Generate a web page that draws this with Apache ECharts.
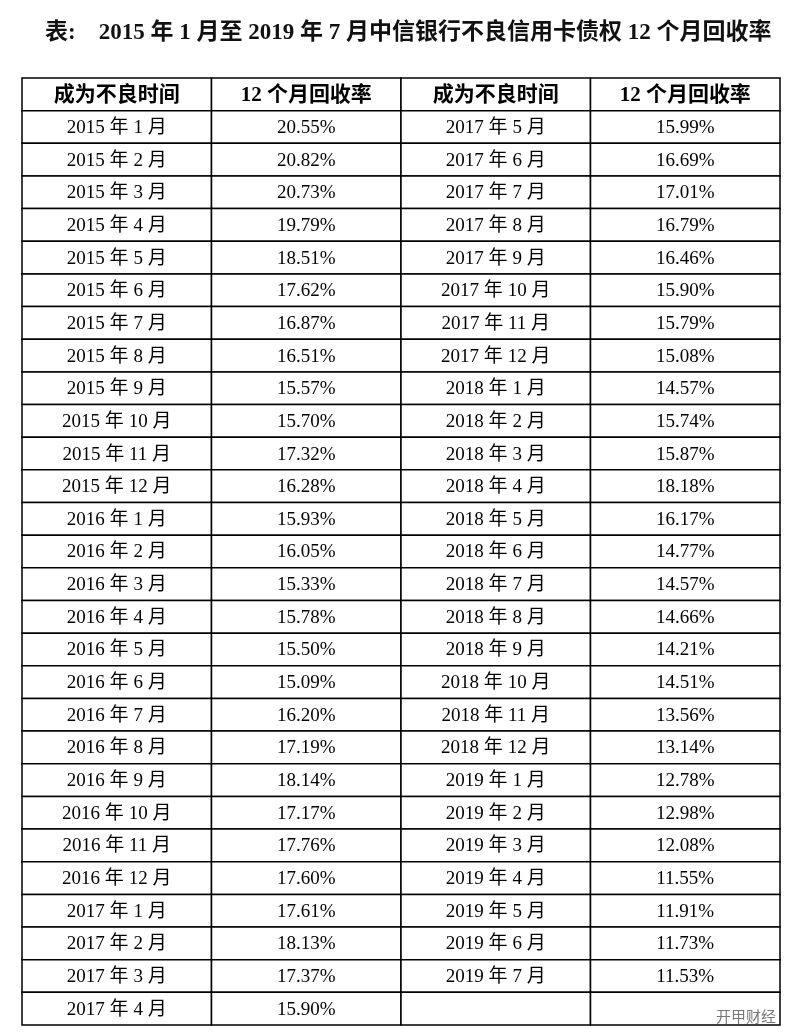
<!DOCTYPE html>
<html lang="zh">
<head>
<meta charset="utf-8">
<script src="https://cdn.jsdelivr.net/npm/echarts@6/dist/echarts.min.js"></script>
<style>
	html, body { margin: 0; padding: 0; background: #fff; }
	#main { width: 794px; height: 1032px; }
</style>
</head>
<body>
<div id="main"></div>
<script>
	// 表头
	var headers = ['成为不良时间', '12 个月回收率', '成为不良时间', '12 个月回收率'];
	// 左半部分：2015年1月 - 2017年4月
	var leftMonths = [
		'2015 年 1 月', '2015 年 2 月', '2015 年 3 月', '2015 年 4 月', '2015 年 5 月', '2015 年 6 月',
		'2015 年 7 月', '2015 年 8 月', '2015 年 9 月', '2015 年 10 月', '2015 年 11 月', '2015 年 12 月',
		'2016 年 1 月', '2016 年 2 月', '2016 年 3 月', '2016 年 4 月', '2016 年 5 月', '2016 年 6 月',
		'2016 年 7 月', '2016 年 8 月', '2016 年 9 月', '2016 年 10 月', '2016 年 11 月', '2016 年 12 月',
		'2017 年 1 月', '2017 年 2 月', '2017 年 3 月', '2017 年 4 月'
	];
	var leftRates = [
		'20.55%', '20.82%', '20.73%', '19.79%', '18.51%', '17.62%',
		'16.87%', '16.51%', '15.57%', '15.70%', '17.32%', '16.28%',
		'15.93%', '16.05%', '15.33%', '15.78%', '15.50%', '15.09%',
		'16.20%', '17.19%', '18.14%', '17.17%', '17.76%', '17.60%',
		'17.61%', '18.13%', '17.37%', '15.90%'
	];
	// 右半部分：2017年5月 - 2019年7月
	var rightMonths = [
		'2017 年 5 月', '2017 年 6 月', '2017 年 7 月', '2017 年 8 月', '2017 年 9 月', '2017 年 10 月',
		'2017 年 11 月', '2017 年 12 月', '2018 年 1 月', '2018 年 2 月', '2018 年 3 月', '2018 年 4 月',
		'2018 年 5 月', '2018 年 6 月', '2018 年 7 月', '2018 年 8 月', '2018 年 9 月', '2018 年 10 月',
		'2018 年 11 月', '2018 年 12 月', '2019 年 1 月', '2019 年 2 月', '2019 年 3 月', '2019 年 4 月',
		'2019 年 5 月', '2019 年 6 月', '2019 年 7 月'
	];
	var rightRates = [
		'15.99%', '16.69%', '17.01%', '16.79%', '16.46%', '15.90%',
		'15.79%', '15.08%', '14.57%', '15.74%', '15.87%', '18.18%',
		'16.17%', '14.77%', '14.57%', '14.66%', '14.21%', '14.51%',
		'13.56%', '13.14%', '12.78%', '12.98%', '12.08%', '11.55%',
		'11.91%', '11.73%', '11.53%'
	];

	var rowCount = leftMonths.length + 1;
	var rows = [];
	for (var r = 0; r < rowCount; r++) rows.push(r);

	var cells = [];
	headers.forEach(function (h, c) { cells.push([c, 0, h, 1]); });
	for (var i = 0; i < leftMonths.length; i++) {
		cells.push([0, i + 1, leftMonths[i], 0]);
		cells.push([1, i + 1, leftRates[i], 0]);
		cells.push([2, i + 1, rightMonths[i] || '', 0]);
		cells.push([3, i + 1, rightRates[i] || '', 0]);
	}

	var font = '"Liberation Serif", "Noto Sans CJK SC", serif';
	var chart = echarts.init(document.getElementById('main'));
	chart.setOption({
		animation: false,
		title: {
			text: '表:    2015 年 1 月至 2019 年 7 月中信银行不良信用卡债权 12 个月回收率',
			left: 40, top: 17,
			textStyle: { fontFamily: font, fontSize: 23, fontWeight: 'bold', color: '#111' }
		},
		graphic: [{
			type: 'text', right: 18, bottom: 8, z: 10,
			style: { text: '开甲财经', font: '15px "Noto Sans CJK SC"', fill: '#777' }
		}],
		grid: { left: 22, right: 14, top: 78, bottom: 7 },
		xAxis: { type: 'category', data: [0, 1, 2, 3], show: false },
		yAxis: { type: 'category', data: rows, inverse: true, show: false },
		series: [{
			type: 'custom',
			data: cells,
			renderItem: function (params, api) {
				var c = api.coord([api.value(0), api.value(1)]);
				var s = api.size([1, 1]);
				var bold = api.value(3) === 1;
				return {
					type: 'group',
					children: [{
						type: 'rect',
						shape: { x: c[0] - s[0] / 2, y: c[1] - s[1] / 2, width: s[0], height: s[1] },
						style: { fill: '#fff', stroke: '#000', lineWidth: 1.5 }
					}, {
						type: 'text',
						style: {
							text: cells[params.dataIndex][2],
							x: c[0], y: c[1] + 1,
							align: 'center', verticalAlign: 'middle',
							font: (bold ? 'bold 21px ' : '19px ') + font,
							fill: '#000'
						}
					}]
				};
			}
		}]
	});
</script>
</body>
</html>
